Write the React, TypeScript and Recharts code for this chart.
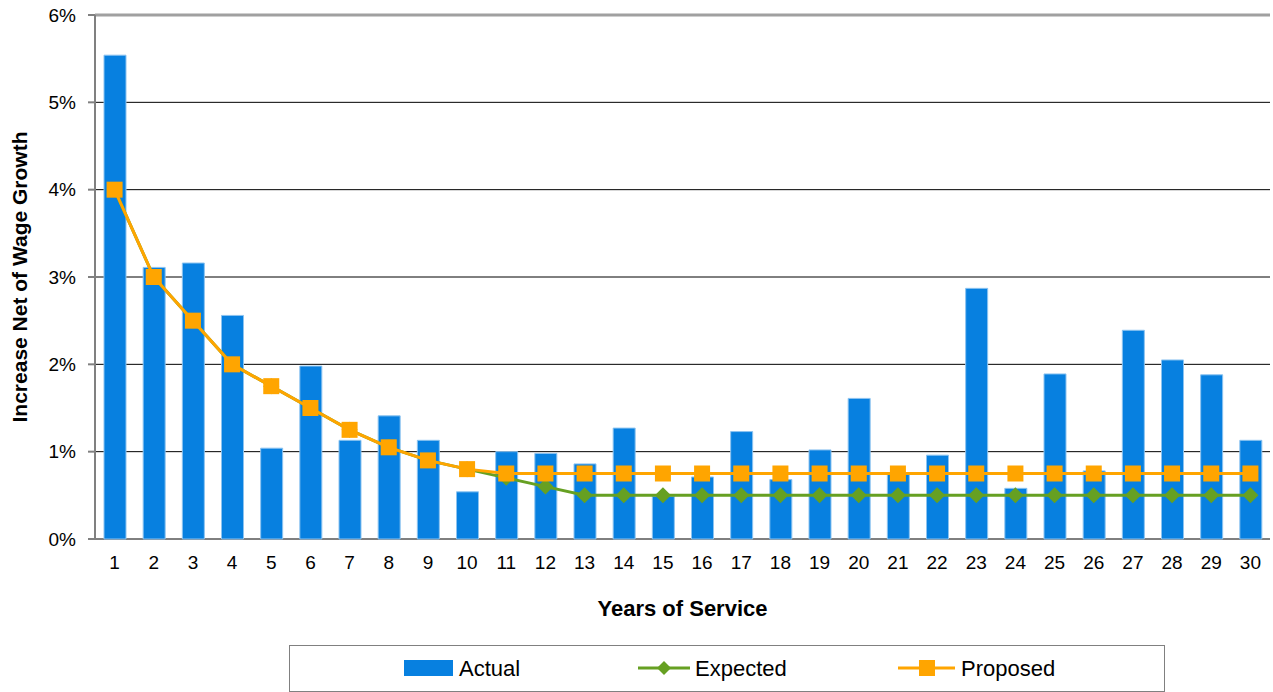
import React from 'react';
import {
  ComposedChart, Bar, Line, XAxis, YAxis, CartesianGrid, Legend, ReferenceLine,
} from 'recharts';

const years = [1, 2, 3, 4, 5, 6, 7, 8, 9, 10, 11, 12, 13, 14, 15, 16, 17, 18, 19, 20, 21, 22, 23, 24, 25, 26, 27, 28, 29, 30];
const actual = [5.54, 3.11, 3.16, 2.56, 1.04, 1.98, 1.13, 1.41, 1.13, 0.54, 1.0, 0.98, 0.86, 1.27, 0.49, 0.71, 1.23, 0.68, 1.02, 1.61, 0.74, 0.96, 2.87, 0.58, 1.89, 0.78, 2.39, 2.05, 1.88, 1.13];
const expected = [4, 3, 2.5, 2, 1.75, 1.5, 1.25, 1.05, 0.9, 0.8, 0.7, 0.6, 0.5, 0.5, 0.5, 0.5, 0.5, 0.5, 0.5, 0.5, 0.5, 0.5, 0.5, 0.5, 0.5, 0.5, 0.5, 0.5, 0.5, 0.5];
const proposed = [4, 3, 2.5, 2, 1.75, 1.5, 1.25, 1.05, 0.9, 0.8, 0.75, 0.75, 0.75, 0.75, 0.75, 0.75, 0.75, 0.75, 0.75, 0.75, 0.75, 0.75, 0.75, 0.75, 0.75, 0.75, 0.75, 0.75, 0.75, 0.75];
const yTicks = [0, 1, 2, 3, 4, 5, 6];
const boundaryTicks = [0.5, 1.5, 2.5, 3.5, 4.5, 5.5, 6.5, 7.5, 8.5, 9.5, 10.5, 11.5, 12.5, 13.5, 14.5, 15.5, 16.5, 17.5, 18.5, 19.5, 20.5, 21.5, 22.5, 23.5, 24.5, 25.5, 26.5, 27.5, 28.5, 29.5, 30.5];

const data = years.map((y, i) => ({
  year: y,
  actual: actual[i],
  expected: expected[i],
  proposed: proposed[i],
}));

const FONT = '"Liberation Sans", Arial, sans-serif';
const BLUE = '#0780E0';
const GREEN = '#66A022';
const ORANGE = '#FFA500';

const Square = (props: any) => {
  const { cx, cy } = props;
  if (cx == null || cy == null) return null;
  return <rect x={cx - 8} y={cy - 8} width={16} height={16} fill={ORANGE} />;
};

const Diamond = (props: any) => {
  const { cx, cy } = props;
  if (cx == null || cy == null) return null;
  return (
    <polygon
      points={`${cx},${cy - 8} ${cx + 8},${cy} ${cx},${cy + 8} ${cx - 8},${cy}`}
      fill={GREEN}
    />
  );
};

const LegendBox = () => (
  <div
    style={{
      position: 'relative',
      width: 876,
      height: 47,
      border: '1px solid #808080',
      boxSizing: 'border-box',
      background: '#fff',
      fontFamily: FONT,
      fontSize: 22,
      color: '#000',
    }}
  >
    <svg width={876} height={47} style={{ position: 'absolute', left: -1, top: -1 }}>
      <rect x={115} y={15} width={49} height={16} fill={BLUE} />
      <line x1={349} x2={401} y1={23} y2={23} stroke={GREEN} strokeWidth={3} />
      <polygon points="375,16 382,23 375,30 368,23" fill={GREEN} />
      <line x1={609} x2={666} y1={23} y2={23} stroke={ORANGE} strokeWidth={3} />
      <rect x={630} y={15} width={16} height={16} fill={ORANGE} />
      <text x={170} y={31} fontSize={22} fontFamily={FONT}>Actual</text>
      <text x={406} y={31} fontSize={22} fontFamily={FONT}>Expected</text>
      <text x={672} y={31} fontSize={22} fontFamily={FONT}>Proposed</text>
    </svg>
  </div>
);

export default function App() {
  return (
    <div style={{ position: 'absolute', left: 0, top: 0, width: 1273, height: 692, background: '#fff', fontFamily: FONT }}>
      <ComposedChart
        width={1273}
        height={692}
        data={data}
        margin={{ top: 15, right: 3, bottom: 0, left: 0 }}
        barCategoryGap={0}
      >
        <CartesianGrid vertical={false} stroke="#000" strokeWidth={1} />
        <XAxis
          xAxisId="b"
          type="number"
          dataKey="year"
          domain={[0.5, 30.5]}
          ticks={boundaryTicks}
          tickFormatter={() => ''}
          height={0}
          tickSize={6}
          axisLine={{ stroke: '#808080', strokeWidth: 2 }}
          tickLine={{ stroke: '#808080', strokeWidth: 2 }}
          allowDataOverflow
        />
        <XAxis
          dataKey="year"
          height={106}
          axisLine={false}
          tickLine={false}
          tickSize={0}
          tickMargin={17}
          interval={0}
          tick={{ fill: '#000', fontSize: 19, fontFamily: FONT }}
          label={{
            value: 'Years of Service',
            position: 'insideTop',
            offset: 61,
            style: { fontWeight: 'bold', fontSize: 22, fill: '#000', fontFamily: FONT },
          }}
        />
        <YAxis
          width={95}
          domain={[0, 6]}
          ticks={yTicks}
          tickFormatter={(v: number) => `${v}%`}
          tickSize={7}
          tickMargin={12}
          axisLine={{ stroke: '#808080', strokeWidth: 2 }}
          tickLine={{ stroke: '#808080', strokeWidth: 2 }}
          tick={{ fill: '#000', fontSize: 19, fontFamily: FONT }}
          label={{
            value: 'Increase Net of Wage Growth',
            angle: -90,
            position: 'insideLeft',
            offset: 20,
            style: { fontWeight: 'bold', fontSize: 21, fill: '#000', fontFamily: FONT, textAnchor: 'middle' },
          }}
        />
        <YAxis
          yAxisId="r"
          orientation="right"
          width={0}
          domain={[0, 6]}
          tick={false}
          tickLine={false}
          axisLine={{ stroke: '#A0A0A0', strokeWidth: 3 }}
        />
        <ReferenceLine y={6} stroke="#A0A0A0" strokeWidth={3} />
        <Bar dataKey="actual" name="Actual" fill={BLUE} stroke="#8CC3F0" strokeWidth={1} barSize={22} isAnimationActive={false} />
        <Line
          dataKey="expected"
          name="Expected"
          stroke={GREEN}
          strokeWidth={3}
          dot={<Diamond />}
          activeDot={false}
          isAnimationActive={false}
        />
        <Line
          dataKey="proposed"
          name="Proposed"
          stroke={ORANGE}
          strokeWidth={3}
          dot={<Square />}
          activeDot={false}
          isAnimationActive={false}
        />
        <Legend
          verticalAlign="bottom"
          content={() => <LegendBox />}
          wrapperStyle={{ left: 289, width: 876, height: 47 }}
        />
      </ComposedChart>
    </div>
  );
}
